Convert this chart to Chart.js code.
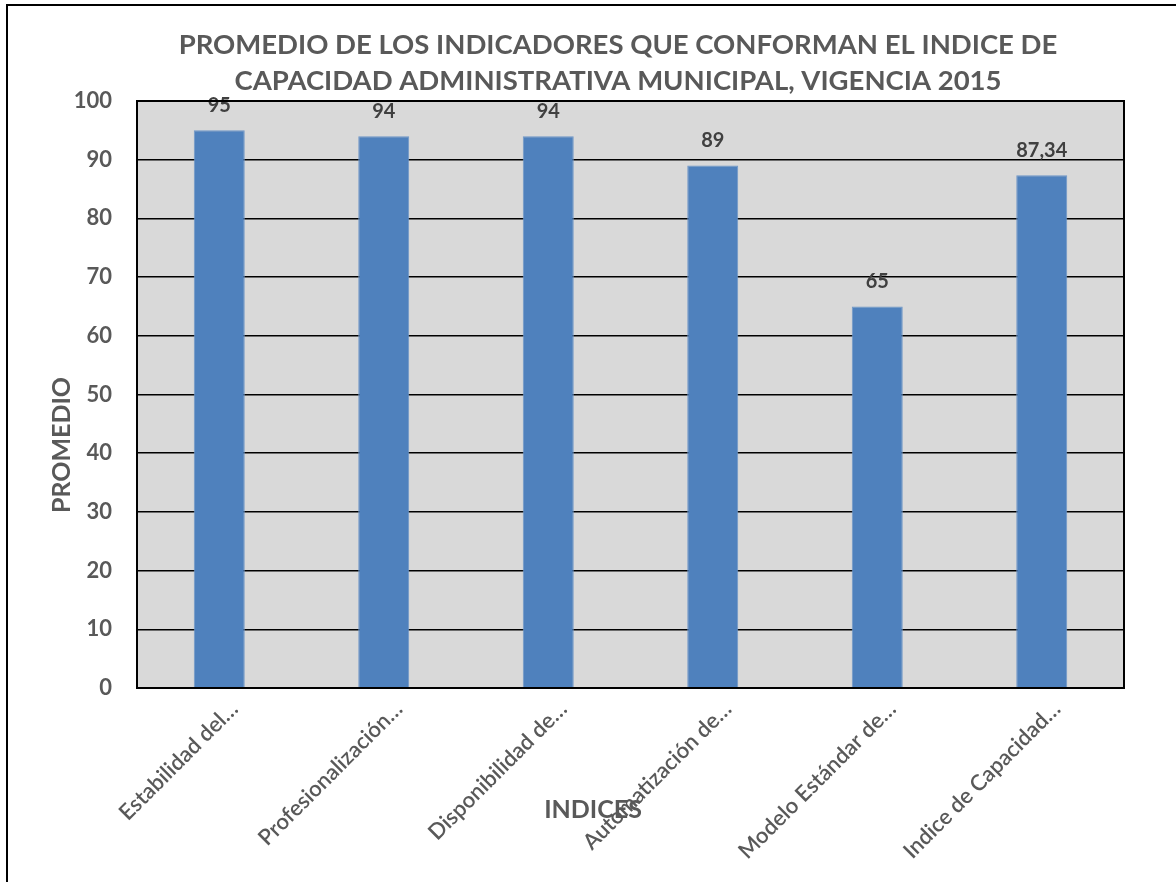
<!DOCTYPE html>
<html>
<head>
<meta charset="utf-8">
<script src="https://cdn.jsdelivr.net/npm/chart.js@4/dist/chart.umd.min.js"></script>
<style>
  html, body { margin: 0; padding: 0; background: #fff; overflow: hidden; }
  #wrap { position: absolute; left: 6px; top: 4px; border: 2px solid #000; width: 1220px; height: 900px; }
  canvas { display: block; }
</style>
</head>
<body>
<div id="wrap"><canvas id="indices" width="1220" height="900"></canvas></div>
<script>
const indices = [
  "Estabilidad del…",
  "Profesionalización…",
  "Disponibilidad de…",
  "Automatización de…",
  "Modelo Estándar de…",
  "Indice de Capacidad…",
];
const promedio = [95, 94, 94, 89, 65, 87.34];
const titleLines = [
  "PROMEDIO DE LOS INDICADORES QUE CONFORMAN EL INDICE DE",
  "CAPACIDAD ADMINISTRATIVA MUNICIPAL, VIGENCIA 2015",
];

const gray = "#595959";

// gray plot background + black frame around the plot
const plotFrame = {
  id: "plotFrame",
  beforeDraw(chart) {
    const { ctx, chartArea: a } = chart;
    ctx.save();
    ctx.fillStyle = "#d9d9d9";
    ctx.fillRect(a.left, a.top, a.right - a.left, a.bottom - a.top);
    ctx.restore();
  },
  afterDraw(chart) {
    const { ctx, chartArea: a } = chart;
    ctx.save();
    ctx.strokeStyle = "#000";
    ctx.lineWidth = 2;
    ctx.strokeRect(a.left, a.top, a.right - a.left, a.bottom - a.top);
    ctx.restore();
  },
};

// value above each bar, comma as decimal separator
const barValues = {
  id: "barValues",
  afterDatasetsDraw(chart) {
    const { ctx } = chart;
    const meta = chart.getDatasetMeta(0);
    ctx.save();
    ctx.font = "bold 20px Lato";
    ctx.fillStyle = "#404040";
    ctx.textAlign = "center";
    ctx.textBaseline = "middle";
    meta.data.forEach((bar, i) => {
      const txt = String(promedio[i]).replace(".", ",");
      ctx.fillText(txt, bar.x, bar.y - 25);
    });
    ctx.restore();
  },
};

// axis titles
const axisTitles = {
  id: "axisTitles",
  afterDraw(chart) {
    const { ctx, chartArea: a } = chart;
    ctx.save();
    ctx.font = "bold 25px Lato";
    ctx.fillStyle = gray;
    ctx.textAlign = "center";
    ctx.textBaseline = "middle";
    ctx.fillText("INDICES", a.left + 456, a.bottom + 122);
    ctx.translate(a.left - 75, a.top + 344);
    ctx.rotate(-Math.PI / 2);
    ctx.fillText("PROMEDIO", 0, 0);
    ctx.restore();
  },
};

const ctx = document.getElementById("indices").getContext("2d");
const chart = new Chart(ctx, {
  type: "bar",
  data: {
    labels: indices,
    datasets: [
      {
        label: "Promedio",
        data: promedio,
        backgroundColor: "#4f81bd",
        borderColor: "#6f97c8",
        borderWidth: 1,
        barPercentage: 0.31,
        categoryPercentage: 1,
      },
    ],
  },
  options: {
    responsive: false,
    animation: false,
    plugins: {
      legend: { display: false },
      tooltip: { enabled: false },
      title: {
        display: true,
        text: titleLines,
        color: gray,
        font: { family: "Lato", size: 27.5, weight: "bold", lineHeight: 36 / 27.5 },
        padding: { top: 21, bottom: 2 },
      },
    },
    scales: {
      x: {
        grid: { display: false, drawTicks: false },
        border: { display: false },
        ticks: {
          autoSkip: false,
          maxRotation: 45,
          minRotation: 45,
          padding: 8,
          labelOffset: 15,
          color: gray,
          font: { family: "Lato", size: 22, weight: 600 },
        },
        afterFit(scale) { scale.height = 218; },
      },
      y: {
        min: 0,
        max: 100,
        grid: { color: "#000", lineWidth: 1.5, drawTicks: false },
        border: { display: false },
        ticks: {
          stepSize: 10,
          padding: 25,
          color: gray,
          font: { family: "Lato", size: 22, weight: "bold" },
        },
        afterFit(scale) { scale.width = 129; },
      },
      // empty right-hand strip, keeps the plot off the right edge
      spacer: {
        type: "linear",
        position: "right",
        grid: { display: false, drawTicks: false },
        border: { display: false },
        ticks: { display: false },
        afterFit(scale) { scale.width = 104; },
      },
    },
  },
  plugins: [plotFrame, barValues, axisTitles],
});
</script>
</body>
</html>
